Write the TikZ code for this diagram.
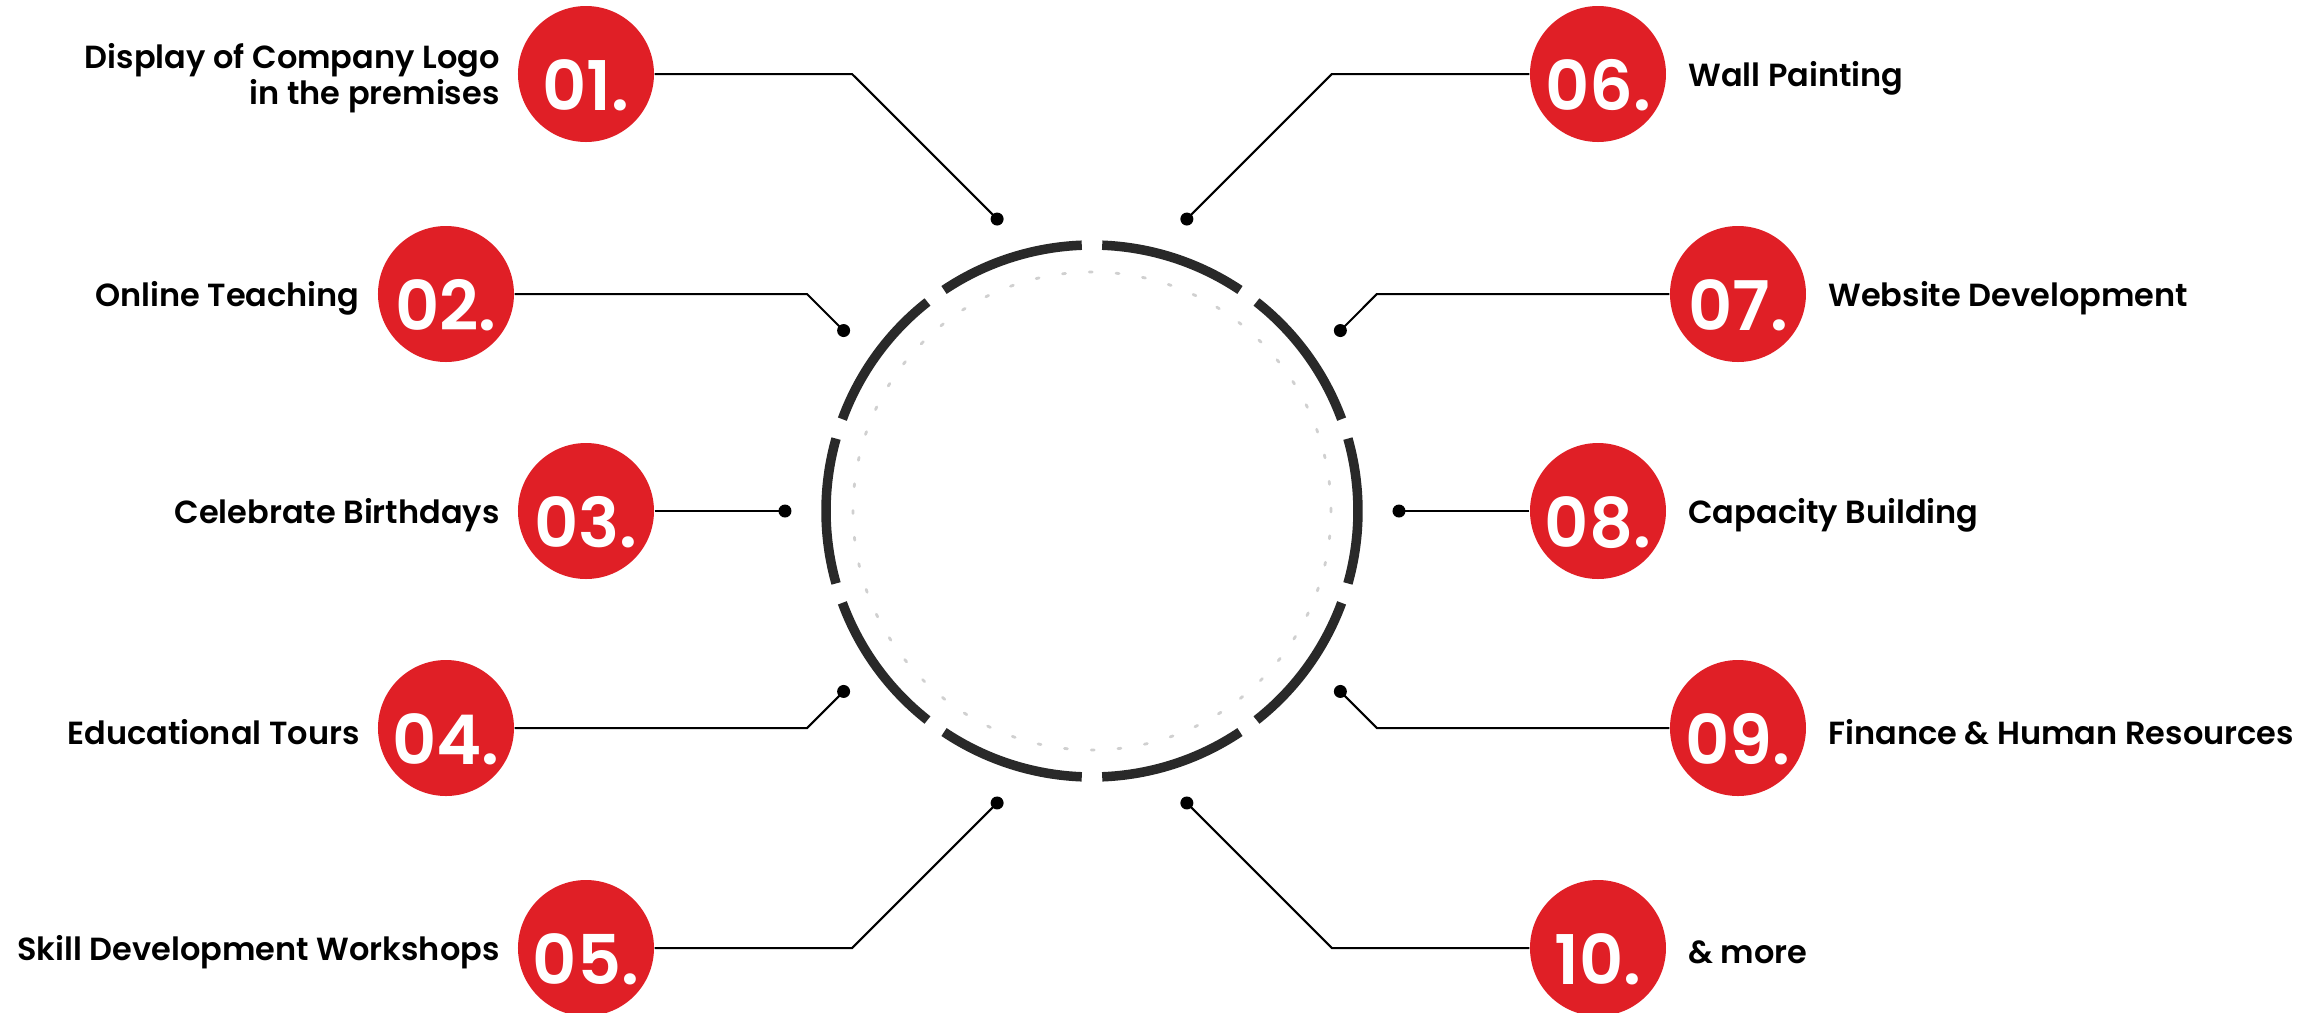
\documentclass[tikz,border=0pt]{standalone}
\usepackage{fontspec}
\setmainfont{Poppins}[BoldFont={Poppins SemiBold}]
\usetikzlibrary{positioning}
\definecolor{badgered}{HTML}{E01F26}
\definecolor{ringgray}{HTML}{292929}
\definecolor{dashgray}{HTML}{D0D0D0}
\tikzset{
  badge/.style={circle, fill=badgered, minimum size=1.36cm, inner sep=0pt, text=white,
    font=\bfseries\fontsize{19.5}{20}\selectfont, text height=0.72cm, text depth=0pt},
  lbl/.style={font=\bfseries\fontsize{9.1}{10.4}\selectfont, inner sep=0pt, yshift=-0.04cm},
  pin/.style={circle, fill=black, minimum size=0.13cm, inner sep=0pt},
  lead/.style={line width=0.02cm},
  ring/.style={line width=0.095cm, draw=ringgray},
}

\begin{document}
\begin{tikzpicture}
        \useasboundingbox (-10.92,-5.01) rectangle (12.28,5.11);
        % ring
        \draw[line width=0.028cm, draw=dashgray, line cap=round, dash pattern=on 0.03cm off 0.238cm] (0,0) circle (2.39);
        \draw[ring] (92.2:2.66) arc (92.2:123.8:2.66);
        \draw[ring] (128.2:2.66) arc (128.2:159.8:2.66);
        \draw[ring] (164.2:2.66) arc (164.2:195.8:2.66);
        \draw[ring] (200.2:2.66) arc (200.2:231.8:2.66);
        \draw[ring] (236.2:2.66) arc (236.2:267.8:2.66);
        \draw[ring] (272.2:2.66) arc (272.2:303.8:2.66);
        \draw[ring] (308.2:2.66) arc (308.2:339.8:2.66);
        \draw[ring] (344.2:2.66) arc (344.2:375.8:2.66);
        \draw[ring] (20.2:2.66) arc (20.2:51.8:2.66);
        \draw[ring] (56.2:2.66) arc (56.2:87.8:2.66);

        % pins
        \node[pin] (d1) at (108:3.07) {};
        \node[pin] (d2) at (144:3.07) {};
        \node[pin] (d3) at (180:3.07) {};
        \node[pin] (d4) at (216:3.07) {};
        \node[pin] (d5) at (252:3.07) {};
        \node[pin] (d6) at (72:3.07) {};
        \node[pin] (d7) at (36:3.07) {};
        \node[pin] (d8) at (0:3.07) {};
        \node[pin] (d9) at (-36:3.07) {};
        \node[pin] (d10) at (-72:3.07) {};

        % badges
        \node[badge] (n1) at (-5.06, 4.37) {01.};
        \node[badge] (n2) at (-6.46, 2.17) {02.};
        \node[badge] (n3) at (-5.06, 0) {03.};
        \node[badge] (n4) at (-6.46,-2.17) {04.};
        \node[badge] (n5) at (-5.06,-4.37) {05.};
        \node[badge] (n6) at ( 5.06, 4.37) {06.};
        \node[badge] (n7) at ( 6.46, 2.17) {07.};
        \node[badge] (n8) at ( 5.06, 0) {08.};
        \node[badge] (n9) at ( 6.46,-2.17) {09.};
        \node[badge] (n10) at ( 5.06,-4.37) {10.};

        % labels
        \node[lbl, align=right, left=0.17cm of n1] (t1) {Display of Company Logo\\in the premises};
        \node[lbl, left=0.17cm of n2] (t2) {Online Teaching};
        \node[lbl, left=0.17cm of n3] (t3) {Celebrate Birthdays};
        \node[lbl, left=0.17cm of n4] (t4) {Educational Tours};
        \node[lbl, left=0.17cm of n5] (t5) {Skill Development Workshops};
        \node[lbl, right=0.21cm of n6] (t6) {Wall Painting};
        \node[lbl, right=0.21cm of n7] (t7) {Website Development};
        \node[lbl, right=0.21cm of n8] (t8) {Capacity Building};
        \node[lbl, right=0.21cm of n9] (t9) {Finance \& Human Resources};
        \node[lbl, right=0.21cm of n10] (t10) {\& more};

        % leads
        \coordinate (b1) at (-2.399, 4.37);
        \coordinate (b2) at (-2.849, 2.17);
        \coordinate (b4) at (-2.849,-2.17);
        \coordinate (b5) at (-2.399,-4.37);
        \coordinate (b6) at ( 2.399, 4.37);
        \coordinate (b7) at ( 2.849, 2.17);
        \coordinate (b9) at ( 2.849,-2.17);
        \coordinate (b10) at ( 2.399,-4.37);
        \draw[lead] (n1) -- (b1) -- (d1.center);
        \draw[lead] (n2) -- (b2) -- (d2.center);
        \draw[lead] (n3) -- (d3.center);
        \draw[lead] (n4) -- (b4) -- (d4.center);
        \draw[lead] (n5) -- (b5) -- (d5.center);
        \draw[lead] (n6) -- (b6) -- (d6.center);
        \draw[lead] (n7) -- (b7) -- (d7.center);
        \draw[lead] (n8) -- (d8.center);
        \draw[lead] (n9) -- (b9) -- (d9.center);
        \draw[lead] (n10) -- (b10) -- (d10.center);
\end{tikzpicture}
\end{document}
